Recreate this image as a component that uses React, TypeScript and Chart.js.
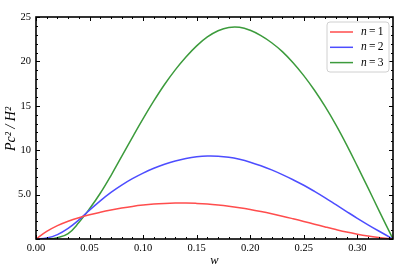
import { useEffect, useRef } from 'react';
import { Chart, registerables } from 'chart.js';

Chart.register(...registerables);

const wValues = [0, 0.01, 0.02, 0.03, 0.04, 0.05, 0.06, 0.07, 0.08, 0.09, 0.10, 0.11, 0.12, 0.13, 0.14, 0.15, 0.16, 0.17, 0.18, 0.19, 0.20, 0.21, 0.22, 0.23, 0.24, 0.25, 0.26, 0.27, 0.28, 0.29, 0.30, 0.31, 0.32, 0.3333];
const n1Values = [0, 0.85, 1.5, 2.0, 2.4, 2.73, 3.01, 3.26, 3.48, 3.67, 3.82, 3.93, 4.0, 4.04, 4.05, 4.01, 3.94, 3.83, 3.69, 3.52, 3.32, 3.09, 2.84, 2.57, 2.28, 1.98, 1.67, 1.36, 1.06, 0.78, 0.54, 0.34, 0.18, 0];
const n2Values = [0, 0.12, 0.5, 1.2, 2.15, 3.25, 4.3, 5.25, 6.07, 6.79, 7.42, 7.96, 8.41, 8.78, 9.06, 9.25, 9.34, 9.32, 9.2, 8.97, 8.65, 8.25, 7.78, 7.25, 6.67, 6.05, 5.36, 4.63, 3.86, 3.09, 2.33, 1.6, 0.9, 0];
const n3Values = [0, 0.02, 0.15, 0.6, 1.85, 3.4, 5.15, 7.15, 9.3, 11.45, 13.55, 15.55, 17.4, 19.05, 20.5, 21.75, 22.75, 23.45, 23.83, 23.85, 23.5, 22.9, 22.1, 21.1, 19.85, 18.4, 16.75, 14.9, 12.85, 10.6, 8.2, 5.75, 3.25, 0];

const seriesLabels = ['1', '2', '3'];
const seriesColors = ['rgb(255,77,77)', 'rgb(77,77,255)', 'rgb(60,155,60)'];

const xTickValues = [0, 0.05, 0.10, 0.15, 0.20, 0.25, 0.30];
const xTickLabels = ['0.00', '0.05', '0.10', '0.15', '0.20', '0.25', '0.30'];
const yTickValues = [0, 5, 10, 15, 20, 25];
const yTickLabels = ['', '5.0', '10', '15', '20', '25'];

const X_MIN = 0;
const X_MAX = 0.3333;
const Y_MIN = 0;
const Y_MAX = 25;

const FONT = '"Liberation Serif", "DejaVu Serif", serif';

const framePlugin = {
  id: 'frameTicks',
  afterDraw(chart: any) {
    const ctx = chart.ctx as CanvasRenderingContext2D;
    const { left, right, top, bottom } = chart.chartArea;
    const xs = chart.scales.x;
    const ys = chart.scales.y;
    ctx.save();
    ctx.strokeStyle = '#000';
    ctx.lineWidth = 1;
    ctx.beginPath();
    const xMinor = 0.01;
    for (let i = 0; i * xMinor <= X_MAX + 1e-9; i++) {
      const v = i * xMinor;
      const major = i % 5 === 0;
      const len = major ? 4 : 2;
      const px = Math.round(xs.getPixelForValue(v)) + 0.5;
      ctx.moveTo(px, bottom);
      ctx.lineTo(px, bottom - len);
      ctx.moveTo(px, top);
      ctx.lineTo(px, top + len);
    }
    const yMinor = 1;
    for (let i = 0; i * yMinor <= Y_MAX + 1e-9; i++) {
      const v = i * yMinor;
      const major = i % 5 === 0;
      const len = major ? 4 : 2;
      const py = Math.round(ys.getPixelForValue(v)) + 0.5;
      ctx.moveTo(left, py);
      ctx.lineTo(left + len, py);
      ctx.moveTo(right, py);
      ctx.lineTo(right - len, py);
    }
    ctx.stroke();
    ctx.lineWidth = 1.6;
    ctx.strokeRect(left, top, right - left, bottom - top);

    // axis titles
    ctx.fillStyle = '#000';
    ctx.font = 'italic 12.5px ' + FONT;
    ctx.textAlign = 'center';
    ctx.textBaseline = 'middle';
    ctx.fillText('w', (left + right) / 2, 261);
    ctx.save();
    ctx.translate(11, (top + bottom) / 2 + 1);
    ctx.rotate(-Math.PI / 2);
    ctx.font = 'italic 14px ' + FONT;
    ctx.fillText('Pc\u00B2 / H\u00B2', 0, 0);
    ctx.restore();

    // legend
    const bx = 327, by = 22, bw = 62, bh = 50;
    ctx.beginPath();
    const r = 3;
    ctx.moveTo(bx + r, by);
    ctx.lineTo(bx + bw - r, by);
    ctx.quadraticCurveTo(bx + bw, by, bx + bw, by + r);
    ctx.lineTo(bx + bw, by + bh - r);
    ctx.quadraticCurveTo(bx + bw, by + bh, bx + bw - r, by + bh);
    ctx.lineTo(bx + r, by + bh);
    ctx.quadraticCurveTo(bx, by + bh, bx, by + bh - r);
    ctx.lineTo(bx, by + r);
    ctx.quadraticCurveTo(bx, by, bx + r, by);
    ctx.closePath();
    ctx.fillStyle = 'rgba(255,255,255,0.85)';
    ctx.fill();
    ctx.strokeStyle = '#d0d0d0';
    ctx.lineWidth = 1;
    ctx.stroke();
    chart.data.datasets.forEach((ds: any, i: number) => {
      const y = 32 + i * 15.3;
      ctx.strokeStyle = ds.borderColor;
      ctx.lineWidth = 1.5;
      ctx.beginPath();
      ctx.moveTo(330, y);
      ctx.lineTo(353, y);
      ctx.stroke();
      ctx.fillStyle = '#000';
      ctx.textAlign = 'left';
      ctx.textBaseline = 'middle';
      ctx.font = 'italic 11.5px ' + FONT;
      ctx.fillText('n', 361, y);
      const nw = ctx.measureText('n').width;
      ctx.font = '11.5px ' + FONT;
      ctx.fillText('\u2009=\u2009' + seriesLabels[i], 361 + nw, y);
    });
    ctx.restore();
  },
};

export default function App() {
  const ref = useRef<HTMLCanvasElement | null>(null);
  useEffect(() => {
    document.body.style.margin = '0';
    const canvas = ref.current;
    if (!canvas) return;
    const seriesValues = [n1Values, n2Values, n3Values];
    const chart = new Chart(canvas, {
      type: 'line',
      data: {
        datasets: seriesValues.map((vals, i) => ({
          label: 'n = ' + seriesLabels[i],
          data: wValues.map((w, j) => ({ x: w, y: vals[j] })),
          borderColor: seriesColors[i],
          backgroundColor: seriesColors[i],
          borderWidth: 1.5,
          pointRadius: 0,
          fill: false,
          tension: 0.4,
        })),
      },
      options: {
        animation: false,
        responsive: false,
        maintainAspectRatio: false,
        layout: { padding: { left: 0, right: 5, top: 17, bottom: 0 } },
        plugins: { legend: { display: false }, tooltip: { enabled: false }, title: { display: false } },
        scales: {
          x: {
            type: 'linear',
            min: X_MIN,
            max: X_MAX,
            grid: { display: false, drawTicks: false },
            border: { display: false },
            afterBuildTicks: (scale: any) => {
              scale.ticks = xTickValues.map((v) => ({ value: v }));
            },
            afterFit: (scale: any) => {
              scale.height = 27;
            },
            ticks: {
              autoSkip: false,
              maxRotation: 0,
              padding: 3,
              color: '#000',
              font: { family: FONT, size: 10.5 },
              callback: (_v: any, i: number) => xTickLabels[i],
            },
          },
          y: {
            type: 'linear',
            min: Y_MIN,
            max: Y_MAX,
            grid: { display: false, drawTicks: false },
            border: { display: false },
            afterBuildTicks: (scale: any) => {
              scale.ticks = yTickValues.map((v) => ({ value: v }));
            },
            afterFit: (scale: any) => {
              scale.width = 36;
            },
            ticks: {
              autoSkip: false,
              padding: 5,
              color: '#000',
              font: { family: FONT, size: 10.5 },
              callback: (_v: any, i: number) => yTickLabels[i],
            },
          },
        },
      },
      plugins: [framePlugin],
    });
    return () => chart.destroy();
  }, []);
  return (
    <div style={{ width: 398, height: 266 }}>
      <canvas ref={ref} width={398} height={266} style={{ width: 398, height: 266, display: 'block' }} />
    </div>
  );
}
